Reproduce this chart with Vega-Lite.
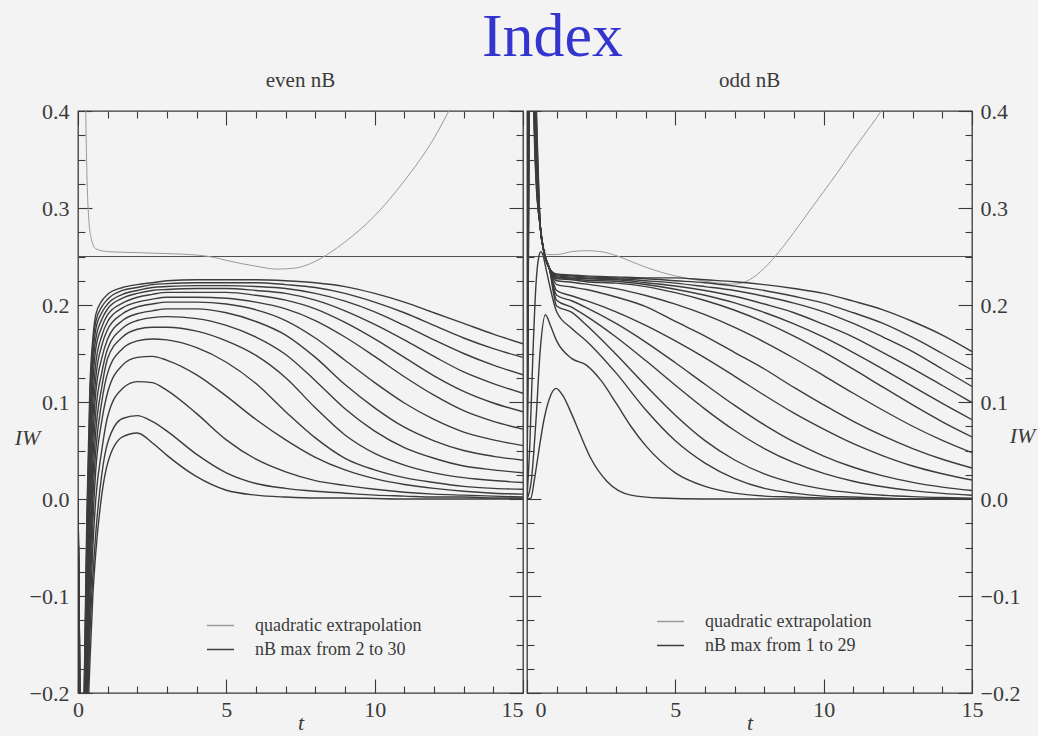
{
"$schema": "https://vega.github.io/schema/vega-lite/v6.json",
"background": "#f3f3f3",
"padding": {"left": 13, "top": 6, "right": 2, "bottom": 2},
"title": {"text": "Index", "font": "Liberation Serif", "fontSize": 62, "fontWeight": "normal", "color": "#3434cf", "anchor": "middle", "dx": 28, "offset": 0},
"config": {
  "view": {"stroke": "#3a3a3a", "strokeWidth": 1.3},
  "axis": {"grid": false, "domain": false, "minExtent": 0, "offset": 0, "tickColor": "#3a3a3a", "tickWidth": 1.1, "labelFont": "Liberation Serif", "labelFontSize": 22, "labelColor": "#3a3a3a", "titleFont": "Liberation Serif", "titleFontSize": 22, "titleFontWeight": "normal", "titleColor": "#3a3a3a", "labelOverlap": false, "labelFlush": false},
  "legend": {"orient": "none", "title": null, "symbolType": "stroke", "symbolSize": 729, "symbolStrokeWidth": 1.5, "labelFont": "Liberation Serif", "labelFontSize": 18, "labelColor": "#3a3a3a", "labelOffset": 20, "rowPadding": 0, "padding": 0, "labelLimit": 400}
},
"resolve": {"scale": {"color": "independent"}, "legend": {"color": "independent"}},
"spacing": -6,
"datasets": {
"hl": [{"t":0,"v":0.25},{"t":15,"v":0.25}],
"qL": [{"t":0.15,"v":0.75},{"t":0.22,"v":0.48},{"t":0.26,"v":0.4},{"t":0.3,"v":0.335},{"t":0.35,"v":0.295},{"t":0.45,"v":0.268},{"t":0.6,"v":0.258},{"t":1,"v":0.255},{"t":2,"v":0.254},{"t":3,"v":0.253},{"t":4,"v":0.2515},{"t":4.6,"v":0.249},{"t":5,"v":0.246},{"t":6,"v":0.24},{"t":6.7,"v":0.237},{"t":7.3,"v":0.238},{"t":8,"v":0.245},{"t":8.5,"v":0.254},{"t":9,"v":0.265},{"t":10,"v":0.292},{"t":11,"v":0.328},{"t":12,"v":0.372},{"t":12.5,"v":0.4},{"t":13,"v":0.43}],
"qR": [{"t":0.1,"v":0.9},{"t":0.2,"v":0.55},{"t":0.28,"v":0.42},{"t":0.36,"v":0.33},{"t":0.5,"v":0.268},{"t":0.7,"v":0.252},{"t":1,"v":0.252},{"t":1.5,"v":0.255},{"t":2,"v":0.256},{"t":2.5,"v":0.255},{"t":3,"v":0.251},{"t":3.5,"v":0.245},{"t":4,"v":0.239},{"t":4.5,"v":0.234},{"t":5,"v":0.23},{"t":6,"v":0.2245},{"t":7,"v":0.2215},{"t":7.5,"v":0.226},{"t":8,"v":0.238},{"t":8.5,"v":0.255},{"t":9,"v":0.275},{"t":9.5,"v":0.296},{"t":10,"v":0.317},{"t":10.5,"v":0.338},{"t":11,"v":0.36},{"t":11.5,"v":0.381},{"t":12,"v":0.403},{"t":12.5,"v":0.43}],
"cL": [
{"c":2,"t":0,"v":0},{"c":2,"t":0.1,"v":-0.3},{"c":2,"t":0.2,"v":-0.35},{"c":2,"t":0.3,"v":-0.25},{"c":2,"t":0.4,"v":-0.17},{"c":2,"t":0.5,"v":-0.1},{"c":2,"t":0.6,"v":-0.055},{"c":2,"t":0.8,"v":0.004},{"c":2,"t":1,"v":0.037},{"c":2,"t":1.5,"v":0.064},{"c":2,"t":2,"v":0.068},{"c":2,"t":2.5,"v":0.058},{"c":2,"t":3,"v":0.045},{"c":2,"t":4,"v":0.023},{"c":2,"t":5,"v":0.009},{"c":2,"t":6,"v":0.004},{"c":2,"t":7,"v":0.002},{"c":2,"t":8,"v":0.001},{"c":2,"t":9,"v":0.001},{"c":2,"t":10,"v":0.0005},{"c":2,"t":11,"v":0},{"c":2,"t":12,"v":0},{"c":2,"t":13,"v":0},{"c":2,"t":14,"v":0},{"c":2,"t":15,"v":0},
{"c":4,"t":0,"v":0},{"c":4,"t":0.1,"v":-0.3},{"c":4,"t":0.2,"v":-0.34},{"c":4,"t":0.3,"v":-0.23},{"c":4,"t":0.4,"v":-0.14},{"c":4,"t":0.5,"v":-0.08},{"c":4,"t":0.6,"v":-0.035},{"c":4,"t":0.8,"v":0.025},{"c":4,"t":1,"v":0.058},{"c":4,"t":1.5,"v":0.083},{"c":4,"t":2,"v":0.086},{"c":4,"t":2.5,"v":0.08},{"c":4,"t":3,"v":0.07},{"c":4,"t":4,"v":0.046},{"c":4,"t":5,"v":0.027},{"c":4,"t":6,"v":0.016},{"c":4,"t":7,"v":0.011},{"c":4,"t":8,"v":0.008},{"c":4,"t":9,"v":0.006},{"c":4,"t":10,"v":0.004},{"c":4,"t":11,"v":0.003},{"c":4,"t":12,"v":0.002},{"c":4,"t":13,"v":0.002},{"c":4,"t":14,"v":0.001},{"c":4,"t":15,"v":0.001},
{"c":6,"t":0,"v":0},{"c":6,"t":0.1,"v":-0.3},{"c":6,"t":0.2,"v":-0.33},{"c":6,"t":0.3,"v":-0.21},{"c":6,"t":0.4,"v":-0.12},{"c":6,"t":0.5,"v":-0.05},{"c":6,"t":0.6,"v":0},{"c":6,"t":0.8,"v":0.05},{"c":6,"t":1,"v":0.085},{"c":6,"t":1.5,"v":0.114},{"c":6,"t":2,"v":0.121},{"c":6,"t":2.5,"v":0.12},{"c":6,"t":3,"v":0.112},{"c":6,"t":4,"v":0.088},{"c":6,"t":5,"v":0.061},{"c":6,"t":6,"v":0.041},{"c":6,"t":7,"v":0.028},{"c":6,"t":8,"v":0.019},{"c":6,"t":9,"v":0.014},{"c":6,"t":10,"v":0.01},{"c":6,"t":11,"v":0.007},{"c":6,"t":12,"v":0.005},{"c":6,"t":13,"v":0.004},{"c":6,"t":14,"v":0.003},{"c":6,"t":15,"v":0.002},
{"c":8,"t":0,"v":0},{"c":8,"t":0.1,"v":-0.3},{"c":8,"t":0.2,"v":-0.32},{"c":8,"t":0.3,"v":-0.19},{"c":8,"t":0.4,"v":-0.1},{"c":8,"t":0.5,"v":-0.025},{"c":8,"t":0.6,"v":0.03},{"c":8,"t":0.8,"v":0.08},{"c":8,"t":1,"v":0.11},{"c":8,"t":1.5,"v":0.138},{"c":8,"t":2,"v":0.146},{"c":8,"t":2.5,"v":0.147},{"c":8,"t":3,"v":0.143},{"c":8,"t":4,"v":0.128},{"c":8,"t":5,"v":0.106},{"c":8,"t":6,"v":0.082},{"c":8,"t":7,"v":0.061},{"c":8,"t":8,"v":0.043},{"c":8,"t":9,"v":0.03},{"c":8,"t":10,"v":0.021},{"c":8,"t":11,"v":0.015},{"c":8,"t":12,"v":0.011},{"c":8,"t":13,"v":0.008},{"c":8,"t":14,"v":0.006},{"c":8,"t":15,"v":0.005},
{"c":10,"t":0,"v":0},{"c":10,"t":0.1,"v":-0.3},{"c":10,"t":0.2,"v":-0.31},{"c":10,"t":0.3,"v":-0.18},{"c":10,"t":0.4,"v":-0.08},{"c":10,"t":0.5,"v":0},{"c":10,"t":0.6,"v":0.05},{"c":10,"t":0.8,"v":0.1},{"c":10,"t":1,"v":0.13},{"c":10,"t":1.5,"v":0.155},{"c":10,"t":2,"v":0.163},{"c":10,"t":2.5,"v":0.165},{"c":10,"t":3,"v":0.164},{"c":10,"t":4,"v":0.156},{"c":10,"t":5,"v":0.141},{"c":10,"t":6,"v":0.119},{"c":10,"t":7,"v":0.09},{"c":10,"t":8,"v":0.063},{"c":10,"t":9,"v":0.042},{"c":10,"t":10,"v":0.03},{"c":10,"t":11,"v":0.022},{"c":10,"t":12,"v":0.017},{"c":10,"t":13,"v":0.013},{"c":10,"t":14,"v":0.011},{"c":10,"t":15,"v":0.01},
{"c":12,"t":0,"v":0},{"c":12,"t":0.1,"v":-0.3},{"c":12,"t":0.2,"v":-0.3},{"c":12,"t":0.3,"v":-0.17},{"c":12,"t":0.4,"v":-0.06},{"c":12,"t":0.5,"v":0.02},{"c":12,"t":0.6,"v":0.07},{"c":12,"t":0.8,"v":0.115},{"c":12,"t":1,"v":0.145},{"c":12,"t":1.5,"v":0.167},{"c":12,"t":2,"v":0.175},{"c":12,"t":2.5,"v":0.177},{"c":12,"t":3,"v":0.177},{"c":12,"t":4,"v":0.173},{"c":12,"t":5,"v":0.163},{"c":12,"t":6,"v":0.148},{"c":12,"t":7,"v":0.125},{"c":12,"t":8,"v":0.094},{"c":12,"t":9,"v":0.066},{"c":12,"t":10,"v":0.047},{"c":12,"t":11,"v":0.035},{"c":12,"t":12,"v":0.027},{"c":12,"t":13,"v":0.022},{"c":12,"t":14,"v":0.019},{"c":12,"t":15,"v":0.017},
{"c":14,"t":0,"v":0},{"c":14,"t":0.1,"v":-0.3},{"c":14,"t":0.2,"v":-0.29},{"c":14,"t":0.3,"v":-0.15},{"c":14,"t":0.4,"v":-0.04},{"c":14,"t":0.5,"v":0.04},{"c":14,"t":0.6,"v":0.09},{"c":14,"t":0.8,"v":0.13},{"c":14,"t":1,"v":0.155},{"c":14,"t":1.5,"v":0.176},{"c":14,"t":2,"v":0.184},{"c":14,"t":2.5,"v":0.187},{"c":14,"t":3,"v":0.188},{"c":14,"t":4,"v":0.186},{"c":14,"t":5,"v":0.179},{"c":14,"t":6,"v":0.167},{"c":14,"t":7,"v":0.149},{"c":14,"t":8,"v":0.122},{"c":14,"t":9,"v":0.093},{"c":14,"t":10,"v":0.07},{"c":14,"t":11,"v":0.053},{"c":14,"t":12,"v":0.042},{"c":14,"t":13,"v":0.034},{"c":14,"t":14,"v":0.03},{"c":14,"t":15,"v":0.027},
{"c":16,"t":0,"v":0},{"c":16,"t":0.1,"v":-0.3},{"c":16,"t":0.2,"v":-0.28},{"c":16,"t":0.3,"v":-0.14},{"c":16,"t":0.4,"v":-0.02},{"c":16,"t":0.5,"v":0.06},{"c":16,"t":0.6,"v":0.11},{"c":16,"t":0.8,"v":0.145},{"c":16,"t":1,"v":0.165},{"c":16,"t":1.5,"v":0.184},{"c":16,"t":2,"v":0.191},{"c":16,"t":2.5,"v":0.194},{"c":16,"t":3,"v":0.196},{"c":16,"t":4,"v":0.196},{"c":16,"t":5,"v":0.192},{"c":16,"t":6,"v":0.183},{"c":16,"t":7,"v":0.169},{"c":16,"t":8,"v":0.146},{"c":16,"t":9,"v":0.118},{"c":16,"t":10,"v":0.094},{"c":16,"t":11,"v":0.074},{"c":16,"t":12,"v":0.06},{"c":16,"t":13,"v":0.05},{"c":16,"t":14,"v":0.044},{"c":16,"t":15,"v":0.04},
{"c":18,"t":0,"v":0},{"c":18,"t":0.1,"v":-0.3},{"c":18,"t":0.2,"v":-0.27},{"c":18,"t":0.3,"v":-0.12},{"c":18,"t":0.4,"v":0},{"c":18,"t":0.5,"v":0.08},{"c":18,"t":0.6,"v":0.125},{"c":18,"t":0.8,"v":0.158},{"c":18,"t":1,"v":0.175},{"c":18,"t":1.5,"v":0.191},{"c":18,"t":2,"v":0.198},{"c":18,"t":2.5,"v":0.201},{"c":18,"t":3,"v":0.203},{"c":18,"t":4,"v":0.203},{"c":18,"t":5,"v":0.201},{"c":18,"t":6,"v":0.195},{"c":18,"t":7,"v":0.184},{"c":18,"t":8,"v":0.166},{"c":18,"t":9,"v":0.143},{"c":18,"t":10,"v":0.12},{"c":18,"t":11,"v":0.099},{"c":18,"t":12,"v":0.082},{"c":18,"t":13,"v":0.069},{"c":18,"t":14,"v":0.061},{"c":18,"t":15,"v":0.055},
{"c":20,"t":0,"v":0},{"c":20,"t":0.1,"v":-0.3},{"c":20,"t":0.2,"v":-0.26},{"c":20,"t":0.3,"v":-0.1},{"c":20,"t":0.4,"v":0.02},{"c":20,"t":0.5,"v":0.1},{"c":20,"t":0.6,"v":0.14},{"c":20,"t":0.8,"v":0.168},{"c":20,"t":1,"v":0.183},{"c":20,"t":1.5,"v":0.197},{"c":20,"t":2,"v":0.203},{"c":20,"t":2.5,"v":0.206},{"c":20,"t":3,"v":0.208},{"c":20,"t":4,"v":0.208},{"c":20,"t":5,"v":0.207},{"c":20,"t":6,"v":0.203},{"c":20,"t":7,"v":0.196},{"c":20,"t":8,"v":0.184},{"c":20,"t":9,"v":0.167},{"c":20,"t":10,"v":0.147},{"c":20,"t":11,"v":0.126},{"c":20,"t":12,"v":0.107},{"c":20,"t":13,"v":0.091},{"c":20,"t":14,"v":0.08},{"c":20,"t":15,"v":0.072},
{"c":22,"t":0,"v":0},{"c":22,"t":0.1,"v":-0.3},{"c":22,"t":0.2,"v":-0.25},{"c":22,"t":0.3,"v":-0.08},{"c":22,"t":0.4,"v":0.04},{"c":22,"t":0.5,"v":0.12},{"c":22,"t":0.6,"v":0.155},{"c":22,"t":0.8,"v":0.177},{"c":22,"t":1,"v":0.19},{"c":22,"t":1.5,"v":0.202},{"c":22,"t":2,"v":0.208},{"c":22,"t":2.5,"v":0.211},{"c":22,"t":3,"v":0.213},{"c":22,"t":4,"v":0.213},{"c":22,"t":5,"v":0.213},{"c":22,"t":6,"v":0.21},{"c":22,"t":7,"v":0.205},{"c":22,"t":8,"v":0.196},{"c":22,"t":9,"v":0.182},{"c":22,"t":10,"v":0.165},{"c":22,"t":11,"v":0.146},{"c":22,"t":12,"v":0.127},{"c":22,"t":13,"v":0.111},{"c":22,"t":14,"v":0.099},{"c":22,"t":15,"v":0.09},
{"c":24,"t":0,"v":0},{"c":24,"t":0.1,"v":-0.3},{"c":24,"t":0.2,"v":-0.24},{"c":24,"t":0.3,"v":-0.06},{"c":24,"t":0.4,"v":0.06},{"c":24,"t":0.5,"v":0.135},{"c":24,"t":0.6,"v":0.165},{"c":24,"t":0.8,"v":0.185},{"c":24,"t":1,"v":0.196},{"c":24,"t":1.5,"v":0.207},{"c":24,"t":2,"v":0.212},{"c":24,"t":2.5,"v":0.215},{"c":24,"t":3,"v":0.216},{"c":24,"t":4,"v":0.217},{"c":24,"t":5,"v":0.217},{"c":24,"t":6,"v":0.215},{"c":24,"t":7,"v":0.212},{"c":24,"t":8,"v":0.205},{"c":24,"t":9,"v":0.194},{"c":24,"t":10,"v":0.18},{"c":24,"t":11,"v":0.164},{"c":24,"t":12,"v":0.147},{"c":24,"t":13,"v":0.131},{"c":24,"t":14,"v":0.119},{"c":24,"t":15,"v":0.109},
{"c":26,"t":0,"v":0},{"c":26,"t":0.1,"v":-0.3},{"c":26,"t":0.2,"v":-0.23},{"c":26,"t":0.3,"v":-0.04},{"c":26,"t":0.4,"v":0.08},{"c":26,"t":0.5,"v":0.148},{"c":26,"t":0.6,"v":0.175},{"c":26,"t":0.8,"v":0.192},{"c":26,"t":1,"v":0.201},{"c":26,"t":1.5,"v":0.211},{"c":26,"t":2,"v":0.215},{"c":26,"t":2.5,"v":0.218},{"c":26,"t":3,"v":0.219},{"c":26,"t":4,"v":0.22},{"c":26,"t":5,"v":0.22},{"c":26,"t":6,"v":0.219},{"c":26,"t":7,"v":0.217},{"c":26,"t":8,"v":0.212},{"c":26,"t":9,"v":0.204},{"c":26,"t":10,"v":0.193},{"c":26,"t":11,"v":0.179},{"c":26,"t":12,"v":0.164},{"c":26,"t":13,"v":0.15},{"c":26,"t":14,"v":0.138},{"c":26,"t":15,"v":0.128},
{"c":28,"t":0,"v":0},{"c":28,"t":0.1,"v":-0.3},{"c":28,"t":0.2,"v":-0.22},{"c":28,"t":0.3,"v":-0.03},{"c":28,"t":0.4,"v":0.1},{"c":28,"t":0.5,"v":0.158},{"c":28,"t":0.6,"v":0.183},{"c":28,"t":0.8,"v":0.198},{"c":28,"t":1,"v":0.206},{"c":28,"t":1.5,"v":0.215},{"c":28,"t":2,"v":0.218},{"c":28,"t":2.5,"v":0.221},{"c":28,"t":3,"v":0.222},{"c":28,"t":4,"v":0.223},{"c":28,"t":5,"v":0.223},{"c":28,"t":6,"v":0.223},{"c":28,"t":7,"v":0.221},{"c":28,"t":8,"v":0.218},{"c":28,"t":9,"v":0.212},{"c":28,"t":10,"v":0.203},{"c":28,"t":11,"v":0.192},{"c":28,"t":12,"v":0.179},{"c":28,"t":13,"v":0.166},{"c":28,"t":14,"v":0.155},{"c":28,"t":15,"v":0.146},
{"c":30,"t":0,"v":0},{"c":30,"t":0.1,"v":-0.3},{"c":30,"t":0.2,"v":-0.21},{"c":30,"t":0.3,"v":-0.015},{"c":30,"t":0.4,"v":0.115},{"c":30,"t":0.5,"v":0.165},{"c":30,"t":0.6,"v":0.19},{"c":30,"t":0.8,"v":0.204},{"c":30,"t":1,"v":0.211},{"c":30,"t":1.5,"v":0.218},{"c":30,"t":2,"v":0.221},{"c":30,"t":2.5,"v":0.223},{"c":30,"t":3,"v":0.225},{"c":30,"t":4,"v":0.226},{"c":30,"t":5,"v":0.226},{"c":30,"t":6,"v":0.226},{"c":30,"t":7,"v":0.225},{"c":30,"t":8,"v":0.223},{"c":30,"t":9,"v":0.219},{"c":30,"t":10,"v":0.212},{"c":30,"t":11,"v":0.203},{"c":30,"t":12,"v":0.192},{"c":30,"t":13,"v":0.181},{"c":30,"t":14,"v":0.17},{"c":30,"t":15,"v":0.16}
],
"cR": [
{"c":1,"t":0,"v":0},{"c":1,"t":0.13,"v":0.001},{"c":1,"t":0.25,"v":0.02},{"c":1,"t":0.36,"v":0.042},{"c":1,"t":0.58,"v":0.083},{"c":1,"t":0.8,"v":0.107},{"c":1,"t":0.98,"v":0.114},{"c":1,"t":1.2,"v":0.107},{"c":1,"t":1.5,"v":0.088},{"c":1,"t":1.76,"v":0.069},{"c":1,"t":2.15,"v":0.042},{"c":1,"t":2.7,"v":0.018},{"c":1,"t":3.5,"v":0.004},{"c":1,"t":4.5,"v":0.001},{"c":1,"t":6,"v":0},{"c":1,"t":15,"v":0},
{"c":3,"t":0,"v":0},{"c":3,"t":0.15,"v":0.02},{"c":3,"t":0.3,"v":0.08},{"c":3,"t":0.45,"v":0.155},{"c":3,"t":0.62,"v":0.19},{"c":3,"t":0.8,"v":0.178},{"c":3,"t":1,"v":0.163},{"c":3,"t":1.5,"v":0.145},{"c":3,"t":2,"v":0.138},{"c":3,"t":2.5,"v":0.122},{"c":3,"t":3,"v":0.099},{"c":3,"t":3.5,"v":0.075},{"c":3,"t":4,"v":0.055},{"c":3,"t":5,"v":0.027},{"c":3,"t":6,"v":0.013},{"c":3,"t":7,"v":0.006},{"c":3,"t":8,"v":0.003},{"c":3,"t":9,"v":0.002},{"c":3,"t":10,"v":0.001},{"c":3,"t":12,"v":0},{"c":3,"t":15,"v":0},
{"c":5,"t":0,"v":0},{"c":5,"t":0.1,"v":0.06},{"c":5,"t":0.2,"v":0.15},{"c":5,"t":0.3,"v":0.22},{"c":5,"t":0.4,"v":0.25},{"c":5,"t":0.47,"v":0.255},{"c":5,"t":0.55,"v":0.25},{"c":5,"t":0.65,"v":0.236},{"c":5,"t":0.75,"v":0.222},{"c":5,"t":1,"v":0.193},{"c":5,"t":1.5,"v":0.176},{"c":5,"t":2,"v":0.163},{"c":5,"t":3,"v":0.13},{"c":5,"t":4,"v":0.092},{"c":5,"t":5,"v":0.06},{"c":5,"t":6,"v":0.037},{"c":5,"t":7,"v":0.021},{"c":5,"t":8,"v":0.011},{"c":5,"t":9,"v":0.006},{"c":5,"t":10,"v":0.003},{"c":5,"t":11,"v":0.002},{"c":5,"t":12,"v":0.001},{"c":5,"t":13,"v":0},{"c":5,"t":15,"v":0},
{"c":7,"t":0,"v":0},{"c":7,"t":0.01,"v":0.5},{"c":7,"t":0.14,"v":0.9},{"c":7,"t":0.2,"v":0.45},{"c":7,"t":0.3,"v":0.33},{"c":7,"t":0.45,"v":0.28},{"c":7,"t":0.55,"v":0.258},{"c":7,"t":0.75,"v":0.238},{"c":7,"t":1,"v":0.199},{"c":7,"t":1.5,"v":0.1926},{"c":7,"t":2,"v":0.1794},{"c":7,"t":3,"v":0.1493},{"c":7,"t":4,"v":0.117},{"c":7,"t":5,"v":0.0864},{"c":7,"t":6,"v":0.0602},{"c":7,"t":7,"v":0.0402},{"c":7,"t":8,"v":0.0259},{"c":7,"t":9,"v":0.0164},{"c":7,"t":10,"v":0.0102},{"c":7,"t":11,"v":0.0063},{"c":7,"t":12,"v":0.0039},{"c":7,"t":13,"v":0.0024},{"c":7,"t":14,"v":0.0015},{"c":7,"t":15,"v":0.0009},
{"c":9,"t":0,"v":0},{"c":9,"t":0.018,"v":0.5},{"c":9,"t":0.14,"v":0.9},{"c":9,"t":0.208,"v":0.45},{"c":9,"t":0.308,"v":0.33},{"c":9,"t":0.45,"v":0.28},{"c":9,"t":0.55,"v":0.258},{"c":9,"t":0.75,"v":0.238},{"c":9,"t":1,"v":0.205},{"c":9,"t":1.5,"v":0.1978},{"c":9,"t":2,"v":0.1885},{"c":9,"t":3,"v":0.167},{"c":9,"t":4,"v":0.1427},{"c":9,"t":5,"v":0.1173},{"c":9,"t":6,"v":0.0927},{"c":9,"t":7,"v":0.0706},{"c":9,"t":8,"v":0.052},{"c":9,"t":9,"v":0.0374},{"c":9,"t":10,"v":0.0264},{"c":9,"t":11,"v":0.0183},{"c":9,"t":12,"v":0.0126},{"c":9,"t":13,"v":0.0086},{"c":9,"t":14,"v":0.0058},{"c":9,"t":15,"v":0.0039},
{"c":11,"t":0,"v":0},{"c":11,"t":0.026,"v":0.5},{"c":11,"t":0.14,"v":0.9},{"c":11,"t":0.216,"v":0.45},{"c":11,"t":0.316,"v":0.33},{"c":11,"t":0.45,"v":0.28},{"c":11,"t":0.55,"v":0.258},{"c":11,"t":0.75,"v":0.238},{"c":11,"t":1,"v":0.21},{"c":11,"t":1.5,"v":0.2044},{"c":11,"t":2,"v":0.1974},{"c":11,"t":3,"v":0.181},{"c":11,"t":4,"v":0.1618},{"c":11,"t":5,"v":0.1405},{"c":11,"t":6,"v":0.1183},{"c":11,"t":7,"v":0.0965},{"c":11,"t":8,"v":0.0764},{"c":11,"t":9,"v":0.0588},{"c":11,"t":10,"v":0.0443},{"c":11,"t":11,"v":0.0327},{"c":11,"t":12,"v":0.0238},{"c":11,"t":13,"v":0.0172},{"c":11,"t":14,"v":0.0123},{"c":11,"t":15,"v":0.0087},
{"c":13,"t":0,"v":0},{"c":13,"t":0.034,"v":0.5},{"c":13,"t":0.14,"v":0.9},{"c":13,"t":0.224,"v":0.45},{"c":13,"t":0.324,"v":0.33},{"c":13,"t":0.45,"v":0.28},{"c":13,"t":0.55,"v":0.258},{"c":13,"t":0.75,"v":0.238},{"c":13,"t":1,"v":0.215},{"c":13,"t":1.5,"v":0.2095},{"c":13,"t":2,"v":0.2045},{"c":13,"t":3,"v":0.193},{"c":13,"t":4,"v":0.179},{"c":13,"t":5,"v":0.163},{"c":13,"t":6,"v":0.1455},{"c":13,"t":7,"v":0.1265},{"c":13,"t":8,"v":0.107},{"c":13,"t":9,"v":0.0885},{"c":13,"t":10,"v":0.072},{"c":13,"t":11,"v":0.057},{"c":13,"t":12,"v":0.0445},{"c":13,"t":13,"v":0.034},{"c":13,"t":14,"v":0.026},{"c":13,"t":15,"v":0.0195},
{"c":15,"t":0,"v":0},{"c":15,"t":0.042,"v":0.5},{"c":15,"t":0.14,"v":0.9},{"c":15,"t":0.232,"v":0.45},{"c":15,"t":0.332,"v":0.33},{"c":15,"t":0.45,"v":0.28},{"c":15,"t":0.55,"v":0.258},{"c":15,"t":0.75,"v":0.238},{"c":15,"t":1,"v":0.221},{"c":15,"t":1.5,"v":0.2185},{"c":15,"t":2,"v":0.216},{"c":15,"t":3,"v":0.2082},{"c":15,"t":4,"v":0.1984},{"c":15,"t":5,"v":0.183},{"c":15,"t":6,"v":0.168},{"c":15,"t":7,"v":0.151},{"c":15,"t":8,"v":0.134},{"c":15,"t":9,"v":0.115},{"c":15,"t":10,"v":0.097},{"c":15,"t":11,"v":0.08},{"c":15,"t":12,"v":0.065},{"c":15,"t":13,"v":0.052},{"c":15,"t":14,"v":0.041},{"c":15,"t":15,"v":0.032},
{"c":17,"t":0,"v":0},{"c":17,"t":0.05,"v":0.5},{"c":17,"t":0.14,"v":0.9},{"c":17,"t":0.24,"v":0.45},{"c":17,"t":0.34,"v":0.33},{"c":17,"t":0.45,"v":0.28},{"c":17,"t":0.55,"v":0.258},{"c":17,"t":0.75,"v":0.238},{"c":17,"t":1,"v":0.225},{"c":17,"t":1.5,"v":0.2235},{"c":17,"t":2,"v":0.2215},{"c":17,"t":3,"v":0.2169},{"c":17,"t":4,"v":0.2098},{"c":17,"t":5,"v":0.2009},{"c":17,"t":6,"v":0.19},{"c":17,"t":7,"v":0.1769},{"c":17,"t":8,"v":0.1618},{"c":17,"t":9,"v":0.1451},{"c":17,"t":10,"v":0.1272},{"c":17,"t":11,"v":0.109},{"c":17,"t":12,"v":0.0915},{"c":17,"t":13,"v":0.075},{"c":17,"t":14,"v":0.0604},{"c":17,"t":15,"v":0.0477},
{"c":19,"t":0,"v":0},{"c":19,"t":0.058,"v":0.5},{"c":19,"t":0.14,"v":0.9},{"c":19,"t":0.248,"v":0.45},{"c":19,"t":0.348,"v":0.33},{"c":19,"t":0.45,"v":0.28},{"c":19,"t":0.55,"v":0.258},{"c":19,"t":0.75,"v":0.238},{"c":19,"t":1,"v":0.227},{"c":19,"t":1.5,"v":0.226},{"c":19,"t":2,"v":0.224},{"c":19,"t":3,"v":0.2225},{"c":19,"t":4,"v":0.219},{"c":19,"t":5,"v":0.2127},{"c":19,"t":6,"v":0.2046},{"c":19,"t":7,"v":0.1946},{"c":19,"t":8,"v":0.1824},{"c":19,"t":9,"v":0.168},{"c":19,"t":10,"v":0.1516},{"c":19,"t":11,"v":0.1338},{"c":19,"t":12,"v":0.1153},{"c":19,"t":13,"v":0.097},{"c":19,"t":14,"v":0.0796},{"c":19,"t":15,"v":0.064},
{"c":21,"t":0,"v":0},{"c":21,"t":0.066,"v":0.5},{"c":21,"t":0.14,"v":0.9},{"c":21,"t":0.256,"v":0.45},{"c":21,"t":0.356,"v":0.33},{"c":21,"t":0.45,"v":0.28},{"c":21,"t":0.55,"v":0.258},{"c":21,"t":0.75,"v":0.238},{"c":21,"t":1,"v":0.228},{"c":21,"t":1.5,"v":0.227},{"c":21,"t":2,"v":0.2255},{"c":21,"t":3,"v":0.2245},{"c":21,"t":4,"v":0.2211},{"c":21,"t":5,"v":0.2163},{"c":21,"t":6,"v":0.21},{"c":21,"t":7,"v":0.2022},{"c":21,"t":8,"v":0.1923},{"c":21,"t":9,"v":0.1806},{"c":21,"t":10,"v":0.1668},{"c":21,"t":11,"v":0.151},{"c":21,"t":12,"v":0.134},{"c":21,"t":13,"v":0.116},{"c":21,"t":14,"v":0.0985},{"c":21,"t":15,"v":0.0817},
{"c":23,"t":0,"v":0},{"c":23,"t":0.074,"v":0.5},{"c":23,"t":0.14,"v":0.9},{"c":23,"t":0.264,"v":0.45},{"c":23,"t":0.364,"v":0.33},{"c":23,"t":0.45,"v":0.28},{"c":23,"t":0.55,"v":0.258},{"c":23,"t":0.75,"v":0.238},{"c":23,"t":1,"v":0.229},{"c":23,"t":1.5,"v":0.228},{"c":23,"t":2,"v":0.227},{"c":23,"t":3,"v":0.226},{"c":23,"t":4,"v":0.223},{"c":23,"t":5,"v":0.2196},{"c":23,"t":6,"v":0.215},{"c":23,"t":7,"v":0.209},{"c":23,"t":8,"v":0.201},{"c":23,"t":9,"v":0.192},{"c":23,"t":10,"v":0.18},{"c":23,"t":11,"v":0.167},{"c":23,"t":12,"v":0.151},{"c":23,"t":13,"v":0.1345},{"c":23,"t":14,"v":0.117},{"c":23,"t":15,"v":0.0994},
{"c":25,"t":0,"v":0},{"c":25,"t":0.082,"v":0.5},{"c":25,"t":0.14,"v":0.9},{"c":25,"t":0.272,"v":0.45},{"c":25,"t":0.372,"v":0.33},{"c":25,"t":0.45,"v":0.28},{"c":25,"t":0.55,"v":0.258},{"c":25,"t":0.75,"v":0.238},{"c":25,"t":1,"v":0.23},{"c":25,"t":1.5,"v":0.229},{"c":25,"t":2,"v":0.228},{"c":25,"t":3,"v":0.227},{"c":25,"t":4,"v":0.225},{"c":25,"t":5,"v":0.2226},{"c":25,"t":6,"v":0.219},{"c":25,"t":7,"v":0.215},{"c":25,"t":8,"v":0.209},{"c":25,"t":9,"v":0.202},{"c":25,"t":10,"v":0.193},{"c":25,"t":11,"v":0.181},{"c":25,"t":12,"v":0.167},{"c":25,"t":13,"v":0.152},{"c":25,"t":14,"v":0.134},{"c":25,"t":15,"v":0.116},
{"c":27,"t":0,"v":0},{"c":27,"t":0.09,"v":0.5},{"c":27,"t":0.14,"v":0.9},{"c":27,"t":0.28,"v":0.45},{"c":27,"t":0.38,"v":0.33},{"c":27,"t":0.45,"v":0.28},{"c":27,"t":0.55,"v":0.258},{"c":27,"t":0.75,"v":0.238},{"c":27,"t":1,"v":0.231},{"c":27,"t":1.5,"v":0.23},{"c":27,"t":2,"v":0.229},{"c":27,"t":3,"v":0.228},{"c":27,"t":4,"v":0.227},{"c":27,"t":5,"v":0.225},{"c":27,"t":6,"v":0.223},{"c":27,"t":7,"v":0.2195},{"c":27,"t":8,"v":0.215},{"c":27,"t":9,"v":0.209},{"c":27,"t":10,"v":0.202},{"c":27,"t":11,"v":0.192},{"c":27,"t":12,"v":0.181},{"c":27,"t":13,"v":0.1665},{"c":27,"t":14,"v":0.15},{"c":27,"t":15,"v":0.133},
{"c":29,"t":0,"v":0},{"c":29,"t":0.098,"v":0.5},{"c":29,"t":0.14,"v":0.9},{"c":29,"t":0.288,"v":0.45},{"c":29,"t":0.388,"v":0.33},{"c":29,"t":0.45,"v":0.28},{"c":29,"t":0.55,"v":0.258},{"c":29,"t":0.75,"v":0.238},{"c":29,"t":1,"v":0.232},{"c":29,"t":1.5,"v":0.231},{"c":29,"t":2,"v":0.23},{"c":29,"t":3,"v":0.229},{"c":29,"t":4,"v":0.228},{"c":29,"t":5,"v":0.228},{"c":29,"t":6,"v":0.226},{"c":29,"t":7,"v":0.224},{"c":29,"t":8,"v":0.221},{"c":29,"t":9,"v":0.217},{"c":29,"t":10,"v":0.212},{"c":29,"t":11,"v":0.204},{"c":29,"t":12,"v":0.195},{"c":29,"t":13,"v":0.183},{"c":29,"t":14,"v":0.169},{"c":29,"t":15,"v":0.152}
]
},
"hconcat": [
{
  "width": 445, "height": 582,
  "title": {"text": "even nB", "font": "Liberation Serif", "fontSize": 21, "fontWeight": "normal", "color": "#3a3a3a", "offset": 9, "anchor": "middle", "frame": "group"},
  "resolve": {"axis": {"x": "independent", "y": "independent"}},
  "layer": [
    {
      "data": {"name": "hl"},
      "mark": {"type": "line", "color": "#505050", "strokeWidth": 1, "clip": true},
      "encoding": {
        "x": {"field": "t", "type": "quantitative", "scale": {"domain": [0, 15], "nice": false, "zero": false},
              "axis": {"orient": "bottom", "values": [0, 5, 10, 15], "tickSize": -14, "labelPadding": 20, "title": "t", "titleFontStyle": "italic", "titleY": 29, "titleBaseline": "middle",
                       "labelAlign": {"condition": {"test": "datum.value == 15", "value": "right"}, "value": "center"}}},
        "y": {"field": "v", "type": "quantitative", "scale": {"domain": [-0.2, 0.4], "nice": false, "zero": false},
              "axis": {"orient": "left", "values": [-0.2, -0.1, 0, 0.1, 0.2, 0.3, 0.4], "format": ".1f", "tickSize": -14, "labelPadding": 23, "title": "IW", "titleFontStyle": "italic", "titleAngle": 0, "titleX": -51, "titleY": 326, "titleAlign": "center", "titleBaseline": "middle"}}
      }
    },
    {
      "data": {"name": "qL"},
      "mark": {"type": "line", "strokeWidth": 1, "clip": true, "interpolate": "monotone"},
      "encoding": {
        "x": {"field": "t", "type": "quantitative", "scale": {"domain": [0, 15], "nice": false, "zero": false},
              "axis": {"orient": "bottom", "values": [1, 2, 3, 4, 6, 7, 8, 9, 11, 12, 13, 14], "tickSize": -7, "labels": false, "title": null}},
        "y": {"field": "v", "type": "quantitative", "scale": {"domain": [-0.2, 0.4], "nice": false, "zero": false},
              "axis": {"orient": "left", "values": [-0.175, -0.15, -0.125, -0.075, -0.05, -0.025, 0.025, 0.05, 0.075, 0.125, 0.15, 0.175, 0.225, 0.25, 0.275, 0.325, 0.35, 0.375], "tickSize": -7, "labels": false, "title": null}},
        "color": {"datum": "quadratic extrapolation", "type": "nominal", "scale": {"domain": ["quadratic extrapolation", "nB max from 2 to 30"], "range": ["#9a9a9a", "#3c3c3c"]},
                  "legend": {"legendX": 128, "legendY": 500}}
      }
    },
    {
      "data": {"name": "cL"},
      "mark": {"type": "line", "strokeWidth": 1.4, "clip": true, "interpolate": "monotone"},
      "encoding": {
        "x": {"field": "t", "type": "quantitative", "scale": {"domain": [0, 15], "nice": false, "zero": false},
              "axis": {"orient": "top", "values": [0, 5, 10, 15], "tickSize": -14, "labels": false, "title": null}},
        "y": {"field": "v", "type": "quantitative", "scale": {"domain": [-0.2, 0.4], "nice": false, "zero": false},
              "axis": {"orient": "right", "values": [-0.2, -0.1, 0, 0.1, 0.2, 0.3, 0.4], "tickSize": -14, "labels": false, "title": null}},
        "detail": {"field": "c", "type": "nominal"},
        "color": {"datum": "nB max from 2 to 30", "type": "nominal", "scale": {"domain": ["quadratic extrapolation", "nB max from 2 to 30"], "range": ["#9a9a9a", "#3c3c3c"]},
                  "legend": {"legendX": 128, "legendY": 500}}
      }
    },
    {
      "data": {"name": "hl"},
      "mark": {"type": "point", "opacity": 0},
      "encoding": {
        "x": {"field": "t", "type": "quantitative", "scale": {"domain": [0, 15], "nice": false, "zero": false},
              "axis": {"orient": "top", "values": [1, 2, 3, 4, 6, 7, 8, 9, 11, 12, 13, 14], "tickSize": -7, "labels": false, "title": null}},
        "y": {"field": "v", "type": "quantitative", "scale": {"domain": [-0.2, 0.4], "nice": false, "zero": false},
              "axis": {"orient": "right", "values": [-0.175, -0.15, -0.125, -0.075, -0.05, -0.025, 0.025, 0.05, 0.075, 0.125, 0.15, 0.175, 0.225, 0.25, 0.275, 0.325, 0.35, 0.375], "tickSize": -7, "labels": false, "title": null}}
      }
    }
  ]
},
{
  "width": 445, "height": 582,
  "title": {"text": "odd nB", "font": "Liberation Serif", "fontSize": 21, "fontWeight": "normal", "color": "#3a3a3a", "offset": 9, "anchor": "middle", "frame": "group"},
  "resolve": {"axis": {"x": "independent", "y": "independent"}},
  "layer": [
    {
      "data": {"name": "hl"},
      "mark": {"type": "line", "color": "#505050", "strokeWidth": 1, "clip": true},
      "encoding": {
        "x": {"field": "t", "type": "quantitative", "scale": {"domain": [0, 15], "nice": false, "zero": false},
              "axis": {"orient": "bottom", "values": [0, 5, 10, 15], "tickSize": -14, "labelPadding": 20, "title": "t", "titleFontStyle": "italic", "titleY": 29, "titleBaseline": "middle",
                       "labelAlign": {"condition": {"test": "datum.value == 0", "value": "left"}, "value": "center"},
                       "labelOffset": {"condition": {"test": "datum.value == 0", "value": 8}, "value": 0}}},
        "y": {"field": "v", "type": "quantitative", "scale": {"domain": [-0.2, 0.4], "nice": false, "zero": false},
              "axis": {"orient": "right", "values": [-0.2, -0.1, 0, 0.1, 0.2, 0.3, 0.4], "format": ".1f", "tickSize": -14, "labelPadding": 22, "title": "IW", "titleFontStyle": "italic", "titleAngle": 0, "titleX": 50, "titleY": 324, "titleAlign": "center", "titleBaseline": "middle"}}
      }
    },
    {
      "data": {"name": "qR"},
      "mark": {"type": "line", "strokeWidth": 1, "clip": true, "interpolate": "monotone"},
      "encoding": {
        "x": {"field": "t", "type": "quantitative", "scale": {"domain": [0, 15], "nice": false, "zero": false},
              "axis": {"orient": "bottom", "values": [1, 2, 3, 4, 6, 7, 8, 9, 11, 12, 13, 14], "tickSize": -7, "labels": false, "title": null}},
        "y": {"field": "v", "type": "quantitative", "scale": {"domain": [-0.2, 0.4], "nice": false, "zero": false},
              "axis": {"orient": "right", "values": [-0.175, -0.15, -0.125, -0.075, -0.05, -0.025, 0.025, 0.05, 0.075, 0.125, 0.15, 0.175, 0.225, 0.25, 0.275, 0.325, 0.35, 0.375], "tickSize": -7, "labels": false, "title": null}},
        "color": {"datum": "quadratic extrapolation", "type": "nominal", "scale": {"domain": ["quadratic extrapolation", "nB max from 1 to 29"], "range": ["#9a9a9a", "#3c3c3c"]},
                  "legend": {"legendX": 129, "legendY": 496}}
      }
    },
    {
      "data": {"name": "cR"},
      "mark": {"type": "line", "strokeWidth": 1.4, "clip": true, "interpolate": "monotone"},
      "encoding": {
        "x": {"field": "t", "type": "quantitative", "scale": {"domain": [0, 15], "nice": false, "zero": false},
              "axis": {"orient": "top", "values": [0, 5, 10, 15], "tickSize": -14, "labels": false, "title": null}},
        "y": {"field": "v", "type": "quantitative", "scale": {"domain": [-0.2, 0.4], "nice": false, "zero": false},
              "axis": {"orient": "left", "values": [-0.2, -0.1, 0, 0.1, 0.2, 0.3, 0.4], "tickSize": -14, "labels": false, "title": null}},
        "detail": {"field": "c", "type": "nominal"},
        "color": {"datum": "nB max from 1 to 29", "type": "nominal", "scale": {"domain": ["quadratic extrapolation", "nB max from 1 to 29"], "range": ["#9a9a9a", "#3c3c3c"]},
                  "legend": {"legendX": 129, "legendY": 496}}
      }
    },
    {
      "data": {"name": "hl"},
      "mark": {"type": "point", "opacity": 0},
      "encoding": {
        "x": {"field": "t", "type": "quantitative", "scale": {"domain": [0, 15], "nice": false, "zero": false},
              "axis": {"orient": "top", "values": [1, 2, 3, 4, 6, 7, 8, 9, 11, 12, 13, 14], "tickSize": -7, "labels": false, "title": null}},
        "y": {"field": "v", "type": "quantitative", "scale": {"domain": [-0.2, 0.4], "nice": false, "zero": false},
              "axis": {"orient": "left", "values": [-0.175, -0.15, -0.125, -0.075, -0.05, -0.025, 0.025, 0.05, 0.075, 0.125, 0.15, 0.175, 0.225, 0.25, 0.275, 0.325, 0.35, 0.375], "tickSize": -7, "labels": false, "title": null}}
      }
    }
  ]
}
]
}
